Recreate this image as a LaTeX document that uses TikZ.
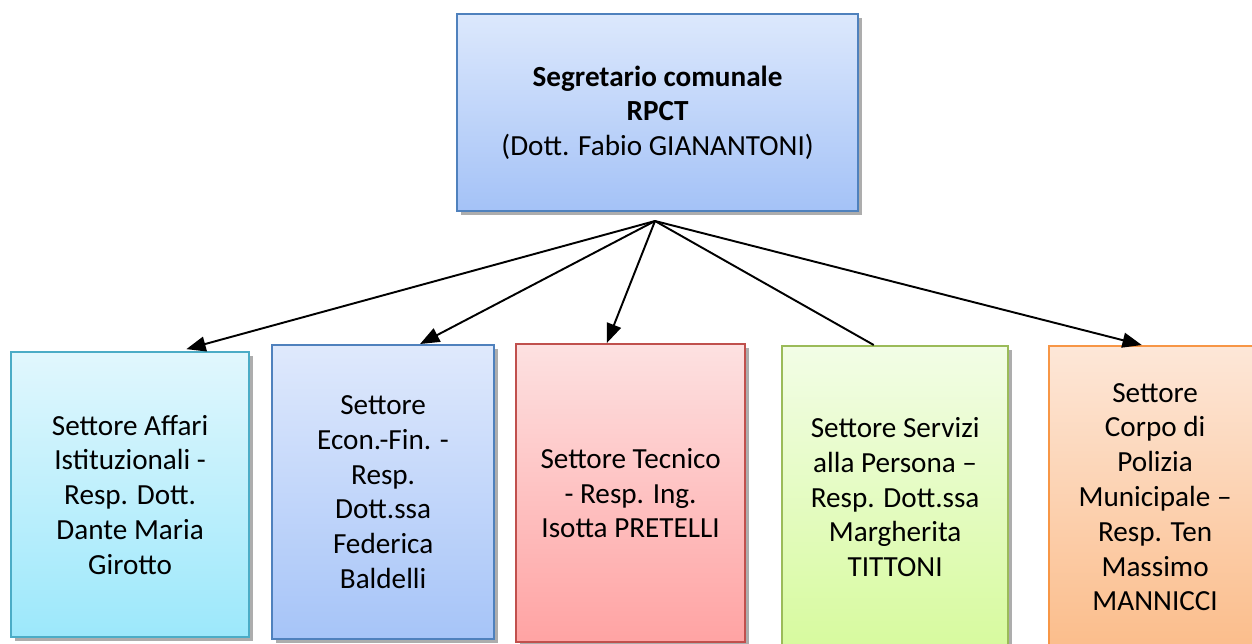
\documentclass[tikz,border=0pt]{standalone}
\usepackage{fontspec}
\setmainfont{Carlito}
\usetikzlibrary{arrows.meta,shadows}

\definecolor{bluebd}{HTML}{4F81BD}
\definecolor{cyanbd}{HTML}{4BACC6}
\definecolor{redbd}{HTML}{C0504D}
\definecolor{greenbd}{HTML}{9BBB59}
\definecolor{orangebd}{HTML}{F79646}

\tikzset{
    box/.style={draw, line width=1.3pt, anchor=north west, align=center, inner sep=0pt,
        font=\fontsize{16.6}{19.8}\selectfont,
        drop shadow={shadow xshift=2pt, shadow yshift=-2pt, fill=black!40, opacity=0.8}},
    link/.style={line width=1.1pt, -{Triangle[length=11pt,width=8.5pt]}},
}

\begin{document}
\begin{tikzpicture}[x=0.02cm, y=-0.02cm]

    % Page frame
    \clip (0,0) rectangle (1252,643);
    \fill[white] (0,0) rectangle (1252,643);

    % Top box
    \node[box, color=bluebd, text=black, top color={rgb,255:red,220;green,232;blue,252}, bottom color={rgb,255:red,164;green,194;blue,247},
        minimum width=8.02cm, minimum height=3.94cm] (seg) at (456,13)
        {\textbf{Segretario comunale}\\ \textbf{RPCT}\\ (Dott. Fabio GIANANTONI)};

    % Sectors
    \node[box, color=cyanbd, text=black, top color={rgb,255:red,225;green,247;blue,253}, bottom color={rgb,255:red,156;green,232;blue,251},
        minimum width=4.76cm, minimum height=5.7cm] (aff) at (10,351)
        {Settore Affari\\ Istituzionali -\\ Resp. Dott.\\ Dante Maria\\ Girotto};
    \node[box, color=bluebd, text=black, top color={rgb,255:red,223;green,233;blue,252}, bottom color={rgb,255:red,166;green,196;blue,248},
        minimum width=4.44cm, minimum height=5.88cm] (eco) at (271,344)
        {Settore\\ Econ.-Fin. -\\ Resp.\\ Dott.ssa\\ Federica\\ Baldelli};
    \node[box, color=redbd, text=black, top color={rgb,255:red,253;green,225;blue,225}, bottom color={rgb,255:red,255;green,163;blue,163},
        minimum width=4.58cm, minimum height=5.96cm] (tec) at (515,343)
        {Settore Tecnico\\ - Resp. Ing.\\ Isotta PRETELLI};
    \node[box, color=greenbd, text=black, top color={rgb,255:red,242;green,253;blue,230}, bottom color={rgb,255:red,215;green,250;blue,158},
        minimum width=4.52cm, minimum height=6.04cm] (ser) at (781,345)
        {Settore Servizi\\ alla Persona --\\ Resp. Dott.ssa\\ Margherita\\ TITTONI};
    \node[box, color=orangebd, text=black, top color={rgb,255:red,253;green,231;blue,216}, bottom color={rgb,255:red,251;green,189;blue,139},
        minimum width=4.24cm, minimum height=6.04cm] (pol) at (1048,345)
        {Settore\\ Corpo di\\ Polizia\\ Municipale --\\ Resp. Ten\\ Massimo\\ MANNICCI};

    % Links
    \coordinate (hub) at (655,221);
    \draw[link, shorten >=4pt] (hub) -- (aff.71);
    \draw[link] (hub) -- (eco.76);
    \draw[link] (hub) -- (tec.99);
    \draw[line width=1.1pt] (hub) -- (ser.98);
    \draw[link] (hub) -- (pol.95);

\end{tikzpicture}
\end{document}
